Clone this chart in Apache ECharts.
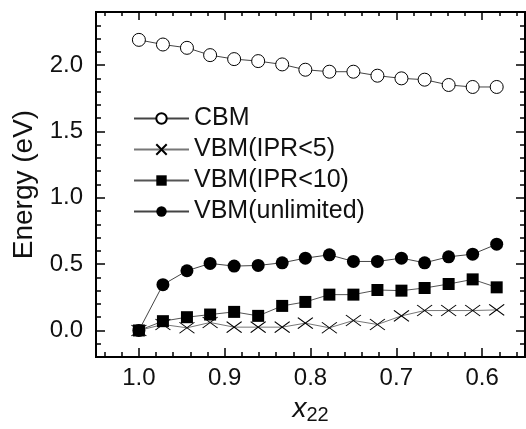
<!DOCTYPE html>
<html>
<head>
<meta charset="utf-8">
<script src="https://cdn.jsdelivr.net/npm/echarts@6/dist/echarts.min.js"></script>
<style>
  html, body { margin: 0; padding: 0; background: #fff; }
  #chart { width: 526px; height: 429px; }
</style>
</head>
<body>
<div id="chart"></div>
<script>
// x22 values (reversed axis, 1.0 -> 0.583)
var xVals = [1.0, 0.972, 0.944, 0.917, 0.889, 0.861, 0.833, 0.806, 0.778, 0.750, 0.722, 0.694, 0.667, 0.639, 0.611, 0.583];
var cbm = [2.19, 2.155, 2.13, 2.075, 2.045, 2.03, 2.005, 1.965, 1.95, 1.95, 1.92, 1.90, 1.89, 1.85, 1.835, 1.835];
var vbmIpr5 = [0.0, 0.045, 0.02, 0.06, 0.025, 0.025, 0.025, 0.055, 0.02, 0.075, 0.045, 0.11, 0.15, 0.15, 0.15, 0.155];
var vbmIpr10 = [0.0, 0.07, 0.10, 0.12, 0.14, 0.11, 0.185, 0.215, 0.27, 0.27, 0.305, 0.30, 0.32, 0.35, 0.385, 0.325];
var vbmAll = [0.0, 0.345, 0.45, 0.505, 0.485, 0.49, 0.51, 0.545, 0.57, 0.52, 0.52, 0.545, 0.51, 0.555, 0.575, 0.65];
var legendNames = ['CBM', 'VBM(IPR<5)', 'VBM(IPR<10)', 'VBM(unlimited)'];

var FONT = 'Liberation Sans, Arial, sans-serif';

function pairs(ys) {
    var out = [];
    for (var i = 0; i < xVals.length; i++) {
        out.push([xVals[i], ys[i]]);
    }
    return out;
}

// one axis per side for major ticks, one for minor ticks
function xAx(pos, step, len, labels) {
    return {
        type: 'value', position: pos, inverse: true,
        min: 0.55, max: 1.05, minInterval: step, maxInterval: step,
        axisLine: { show: true, onZero: false, lineStyle: { color: '#000', width: 2 } },
        axisTick: { show: true, inside: true, length: len, lineStyle: { color: '#000', width: 1.5 } },
        axisLabel: {
            show: labels, margin: 9, color: '#111', fontSize: 24, fontFamily: FONT,
            showMinLabel: false, showMaxLabel: false,
            formatter: function (v) { return v.toFixed(1); }
        },
        splitLine: { show: false }
    };
}
function yAx(pos, step, len, labels) {
    return {
        type: 'value', position: pos,
        min: -0.2, max: 2.4, minInterval: step, maxInterval: step,
        axisLine: { show: true, onZero: false, lineStyle: { color: '#000', width: 2 } },
        axisTick: { show: true, inside: true, length: len, lineStyle: { color: '#000', width: 1.5 } },
        axisLabel: {
            show: labels, margin: 13, color: '#111', fontSize: 24, fontFamily: FONT,
            showMinLabel: false, showMaxLabel: false,
            formatter: function (v) { return v.toFixed(1); }
        },
        splitLine: { show: false }
    };
}

var xAxes = [xAx('bottom', 0.1, 9, true), xAx('bottom', 0.02, 5, false), xAx('top', 0.1, 8, false), xAx('top', 0.02, 4, false)];
xAxes[0].name = '{i|x}{s|22}';
xAxes[0].nameLocation = 'middle';
xAxes[0].nameGap = 33;
xAxes[0].nameTextStyle = {
    rich: {
        i: { fontSize: 28, fontStyle: 'italic', fontFamily: FONT, color: '#111' },
        s: { fontSize: 20, fontFamily: FONT, color: '#111', padding: [14, 0, 0, 0] }
    }
};
var yAxes = [yAx('left', 0.5, 9, true), yAx('left', 0.1, 5, false), yAx('right', 0.5, 9, false), yAx('right', 0.1, 5, false)];
yAxes[0].name = 'Energy (eV)';
yAxes[0].nameLocation = 'middle';
yAxes[0].nameGap = 57;
yAxes[0].nameTextStyle = { fontSize: 28, fontFamily: FONT, color: '#111' };

var crossPath = 'path://M0,0L14,11M14,0L0,11';

var chart = echarts.init(document.getElementById('chart'), null, { renderer: 'canvas' });
chart.setOption({
    backgroundColor: '#fff',
    animation: false,
    grid: { left: 96, right: 1, top: 12, bottom: 72, containLabel: false, outerBoundsMode: 'none' },
    xAxis: xAxes,
    yAxis: yAxes,
    legend: {
        data: legendNames,
        orient: 'vertical',
        left: 128,
        top: 101,
        itemWidth: 55,
        itemHeight: 13,
        itemGap: 6,
        textStyle: { fontSize: 25, fontFamily: FONT, color: '#111' }
    },
    series: [
        {
            name: 'CBM', type: 'line', data: pairs(cbm),
            symbol: 'circle', symbolSize: 13,
            lineStyle: { color: '#444', width: 1 },
            itemStyle: { color: '#fff', borderColor: '#000', borderWidth: 1 }
        },
        {
            name: 'VBM(unlimited)', type: 'line', data: pairs(vbmAll),
            symbol: 'circle', symbolSize: 13,
            lineStyle: { color: '#444', width: 1 },
            itemStyle: { color: '#000', borderColor: '#000', borderWidth: 0 }
        },
        {
            name: 'VBM(IPR<5)', type: 'line', data: pairs(vbmIpr5),
            symbol: crossPath, symbolSize: [15, 11],
            lineStyle: { color: '#777', width: 1 },
            itemStyle: { color: 'none', borderColor: '#000', borderWidth: 1 }
        },
        {
            name: 'VBM(IPR<10)', type: 'line', data: pairs(vbmIpr10),
            symbol: 'rect', symbolSize: 12,
            lineStyle: { color: '#555', width: 1 },
            itemStyle: { color: '#000', borderColor: '#000', borderWidth: 0 }
        }
    ]
});
</script>
</body>
</html>
